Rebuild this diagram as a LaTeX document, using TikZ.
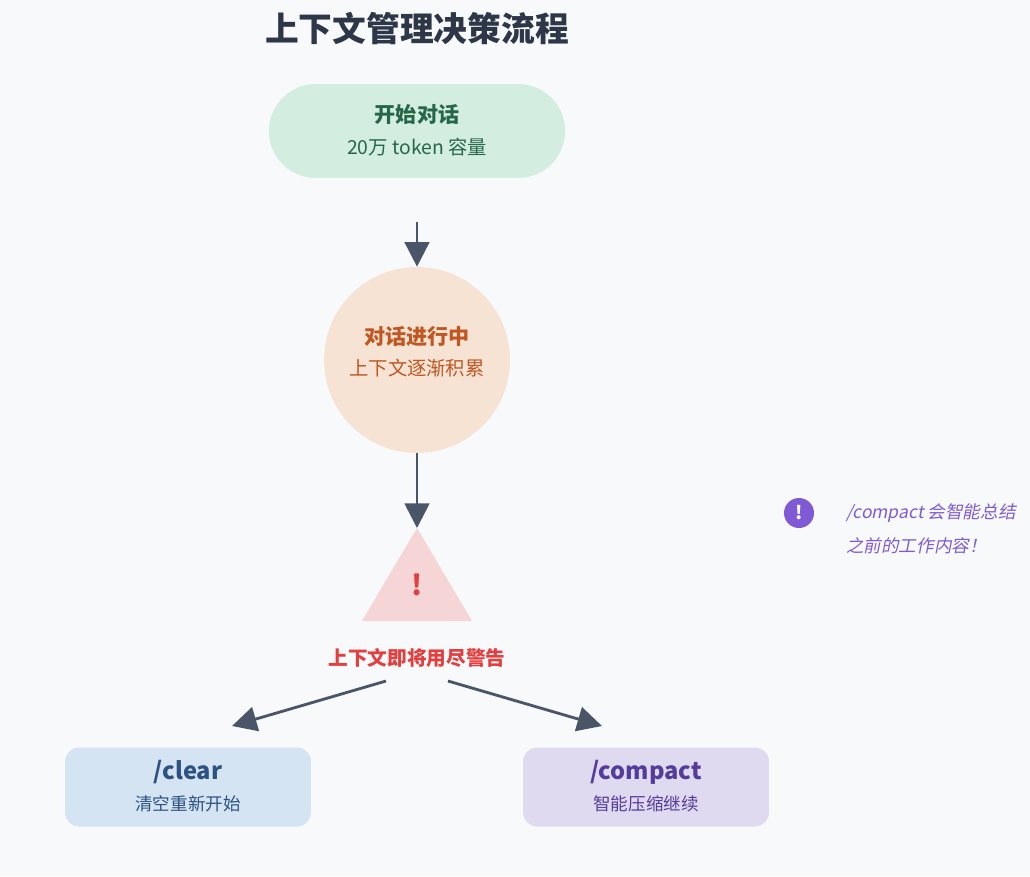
\documentclass[tikz,border=0pt]{standalone}
\usepackage{fontspec}
\setmainfont{Noto Sans CJK SC}
\newfontfamily\noteit[FakeSlant=0.2]{Noto Sans CJK SC}
\usetikzlibrary{arrows.meta,shapes.geometric,shapes.misc}
\definecolor{bgc}{HTML}{F7F9FB}
\definecolor{arrc}{HTML}{4A5568}
\definecolor{titc}{HTML}{2D3748}
\definecolor{startf}{HTML}{D3EDE1}
\definecolor{startt}{HTML}{276749}
\definecolor{midf}{HTML}{F6E3D4}
\definecolor{midt}{HTML}{C05621}
\definecolor{warnf}{HTML}{F5D5D6}
\definecolor{warnt}{HTML}{E53E3E}
\definecolor{clearf}{HTML}{D5E4F2}
\definecolor{cleart}{HTML}{2C5282}
\definecolor{compf}{HTML}{E0DAF0}
\definecolor{compt}{HTML}{553C9A}
\definecolor{notec}{HTML}{805AD5}
\tikzset{
 flow/.style={-{Triangle[length=14pt,width=14pt]},line width=1.6pt,draw=arrc},
 cmdbox/.style={rounded corners=8pt,minimum width=4.92cm,minimum height=1.58cm,inner sep=0pt},
}
\begin{document}
\begin{tikzpicture}[x=0.02cm,y=-0.02cm]
 \fill[bgc] (0,0) rectangle (1030,876);
 \useasboundingbox (0,0) rectangle (1030,876);
 \node[font=\bfseries\fontsize{19.2}{22}\selectfont,text=titc] (title) at (417,28) {上下文管理决策流程};
 % start
 \node[rounded rectangle,fill=startf,minimum width=6.16cm,minimum height=1.88cm] (start) at (417,131) {};
 \node[font=\bfseries\fontsize{12}{14}\selectfont,text=startt] (start_t) at (417,115) {开始对话};
 \node[font=\fontsize{11}{13}\selectfont,text=startt] (start_s) at (417,147) {20万 token 容量};
 \coordinate (a_top) at (417,222);
 % talking
 \node[circle,fill=midf,minimum size=3.72cm] (talk) at (417,360) {};
 \node[font=\bfseries\fontsize{12}{14}\selectfont,text=midt] (talk_t) at (417,337) {对话进行中};
 \node[font=\fontsize{11}{13}\selectfont,text=midt] (talk_s) at (417,368) {上下文逐渐积累};
 % warning
 \fill[warnf] (417,528) -- (472,621) -- (362,621) -- cycle;
 \coordinate (warn) at (417,528);
 \node[font=\bfseries\fontsize{16}{18}\selectfont,text=warnt] (warn_x) at (417,585) {!};
 \node[font=\bfseries\fontsize{11.2}{13}\selectfont,text=warnt] (warn_t) at (417,658) {上下文即将用尽警告};
 \coordinate (wl) at (386,681);
 \coordinate (wr) at (448,681);
 % commands
 \node[cmdbox,fill=clearf] (clear) at (188,787) {};
 \node[font=\bfseries\fontsize{13.5}{15}\selectfont,text=cleart] (clear_t) at (188,772) {/clear};
 \node[font=\fontsize{10}{12}\selectfont,text=cleart] (clear_s) at (188,804) {清空重新开始};
 \node[cmdbox,fill=compf] (compact) at (646,787) {};
 \node[font=\bfseries\fontsize{13.5}{15}\selectfont,text=compt] (comp_t) at (646,772) {/compact};
 \node[font=\fontsize{10}{12}\selectfont,text=compt] (comp_s) at (646,804) {智能压缩继续};
 \coordinate (cl_in) at (232,726);
 \coordinate (co_in) at (602,726);
 % note
 \node[circle,fill=notec,minimum size=0.6cm,inner sep=0pt,text=white,font=\bfseries\fontsize{10.5}{12}\selectfont] (note_i) at (799,513) {!};
 \node[anchor=west,font=\noteit\fontsize{10}{12}\selectfont,text=notec] (note_1) at (840,513) {/compact 会智能总结};
 \node[anchor=west,font=\noteit\fontsize{10}{12}\selectfont,text=notec] (note_2) at (840,546) {之前的工作内容！};
 % arrows
 \draw[flow] (a_top) -- (talk);
 \draw[flow] (talk) -- (warn);
 \draw[flow] (wl) -- (cl_in);
 \draw[flow] (wr) -- (co_in);
\end{tikzpicture}
\end{document}
